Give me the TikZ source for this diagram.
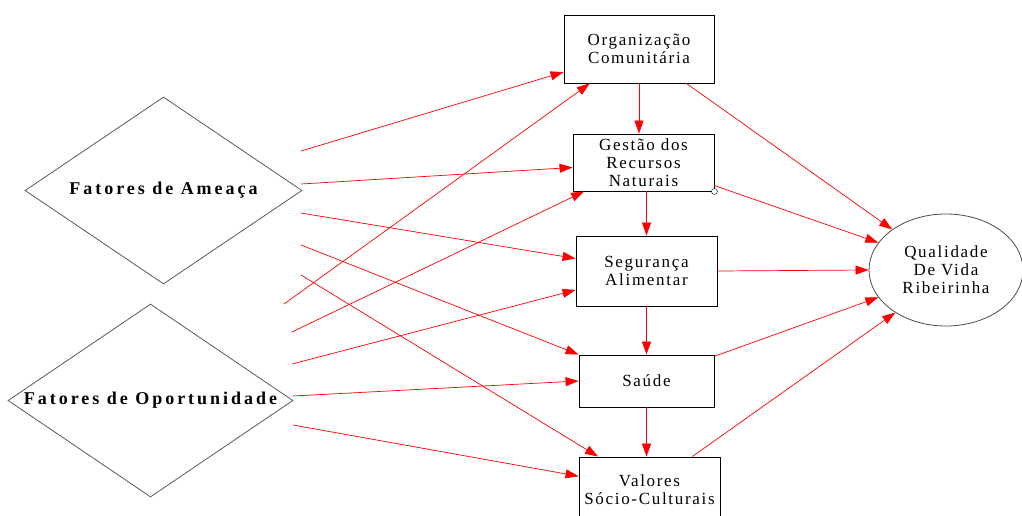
\documentclass[tikz,border=0pt]{standalone}
\usepackage{fontspec}
\setmainfont{Liberation Serif}
\newfontfamily\boxfont[LetterSpace=10]{Liberation Serif}
\newfontfamily\diafont[LetterSpace=16.5]{Liberation Serif}
\usetikzlibrary{shapes.geometric,arrows.meta}

\begin{document}
\begin{tikzpicture}[x=1pt,y=-1pt,
   caixa/.style={draw, line width=0.9pt, align=center, inner sep=1pt,
      font=\boxfont\fontsize{17}{18}\selectfont},
   losango/.style={draw=black!65, line width=0.8pt, diamond, aspect=1.5, inner sep=0pt,
      font=\diafont\fontsize{18}{20}\selectfont\bfseries},
   seta/.style={red, line width=0.7pt, -{Triangle[length=13pt,width=9pt]}}]
   \useasboundingbox (0,0) rectangle (1022,516);

   \node[losango, minimum width=277, minimum height=187] (ameaca) at (163.5,190.5) {Fatores de Ameaça};
   \node[losango, minimum width=285, minimum height=193] (oport) at (150.5,400.5) {Fatores de Oportunidade};

   \node[caixa, minimum width=150, minimum height=68] (org) at (639,49) {Organização\\Comunitária};
   \node[caixa, minimum width=141, minimum height=57] (ges) at (643.5,162.5) {Gestão dos\\Recursos\\Naturais};
   \node[caixa, minimum width=141, minimum height=70] (seg) at (646.5,271) {Segurança\\Alimentar};
   \node[caixa, minimum width=135, minimum height=52] (sau) at (646.5,381) {Saúde};
   \node[caixa, minimum width=141, minimum height=66] (val) at (649.5,490) {Valores\\Sócio-Culturais};
   \node[draw=black!70, line width=0.8pt, ellipse, minimum width=154, minimum height=112, align=center,
      font=\boxfont\fontsize{17}{18}\selectfont] (qv) at (946,270) {Qualidade\\De Vida\\Ribeirinha};
   \node[draw, fill=white, circle, inner sep=0pt, minimum size=6] (ponto) at (ges.south east) {};

   \foreach \y [count=\i] in {151,184,213,245,275}
      \coordinate (a\i) at (301,\y);
   \foreach \x/\y [count=\i] in {284/304,292/332,292/364,293/396,293/425}
      \coordinate (o\i) at (\x,\y);

   \draw[seta] (a1) -- (org.197);
   \draw[seta] (a2) -- (ges.184);
   \draw[seta] (a3) -- (seg.170);
   \draw[seta] (a4) -- (sau.north west);
   \draw[seta] (a5) -- (val.147);

   \draw[seta] (o1) -- (org.215);
   \draw[seta] (o2) -- (ges.206);
   \draw[seta] (o3) -- (seg.195);
   \draw[seta] (o4) -- (sau.west);
   \draw[seta] (o5) -- (val.169);

   \draw[seta] (org.south) -- (org.south |- ges.north);
   \draw[seta] (seg.north |- ges.south) -- (seg.north);
   \draw[seta] (seg.south) -- (sau.north);
   \draw[seta] (sau.south) -- (sau.south |- val.north);

   \draw[seta] (org.-36) -- (qv.143);
   \draw[seta] (ges.-18) -- (qv.158);
   \draw[seta] (seg.east) -- (qv.west);
   \draw[seta] (sau.20) -- (qv.202);
   \draw[seta] (val.38) -- (qv.220);
\end{tikzpicture}
\end{document}
